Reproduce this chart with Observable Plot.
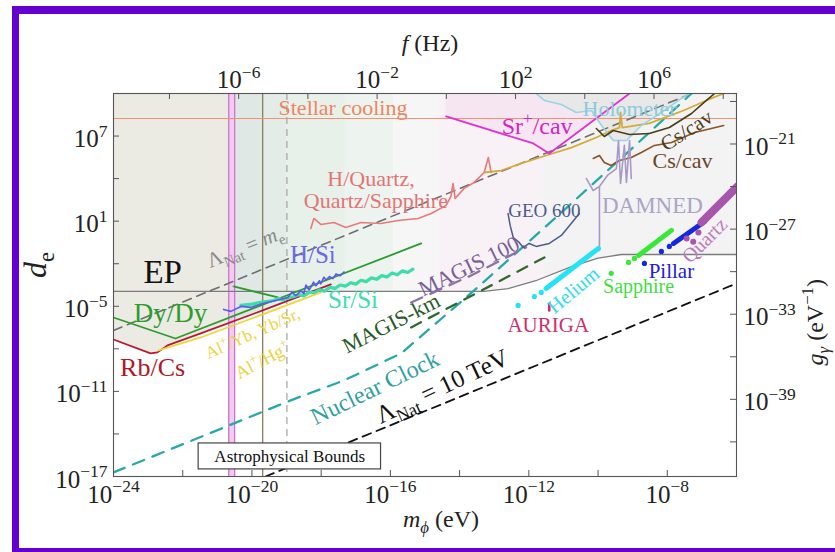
<!DOCTYPE html>
<html>
<head>
<meta charset="utf-8">
<script src="https://cdn.jsdelivr.net/npm/d3@7"></script>
<script src="https://cdn.jsdelivr.net/npm/@observablehq/plot@0.6"></script>
<style>
  html, body { margin: 0; padding: 0; background: #fff; overflow: hidden; }
  #wrap { position: relative; width: 835px; height: 552px; }
  #wrap svg { position: absolute; left: 0; top: 0; }
  #border { position: absolute; left: 12px; top: 6px; width: 840px; height: 549px; box-sizing: border-box;
    border-style: solid; border-color: #6400d0; border-width: 8px 7px 7px 7px; pointer-events: none; }
</style>
</head>
<body>
<div id="wrap"><div id="border"></div></div>
<script>
// ---------- data: [log10(m_phi / eV), log10(d_e)] ----------
const epBound = [[-24,-3.95],[-13.3,-3.95],[-12.6,-3.75],[-11.8,-3.2],[-10.77,-2.2],[-10.0,-1.6],[-9.33,-1.35],[-6,-1.35]];
const shadeEnvelope = [[-24,-7.34],[-22.93,-8.32],[-22.73,-8.25],[-22.44,-7.76],[-21.48,-6.91],[-18.26,-3.95],[-13.3,-3.95],[-12.6,-3.75],[-11.8,-3.2],[-10.77,-2.2],[-10.0,-1.6],[-9.33,-1.35],[-6,-1.35]];
const rbCs = [[-24,-7.34],[-22.93,-8.32],[-22.73,-8.25],[-22.44,-7.76],[-21.48,-6.91],[-19.69,-5.29],[-17.72,-3.46]];
const alYbSr = [[-22.70,-8.11],[-21.48,-7.20],[-19.69,-5.57],[-18.01,-4.02]];
const dyDy = [[-24,-5.79],[-22.21,-7.27],[-15.11,-0.57]];
const dyDy2 = [[-20.53,-3.60],[-19.25,-4.38]];
const hSi = [[-20.82,-5.22],[-20.61,-5.36],[-20.32,-5.01],[-20.03,-5.08],[-19.69,-4.80],[-19.31,-4.59],[-18.96,-4.38],[-18.85,-4.02],[-18.73,-4.25],[-18.59,-3.92],[-18.50,-4.10],[-18.44,-3.50],[-18.35,-3.85],[-18.30,-3.67],[-18.22,-3.30],[-18.15,-3.55],[-18.05,-3.20],[-18.01,-3.42],[-17.92,-2.95],[-17.86,-3.15],[-17.76,-2.90],[-17.66,-3.05],[-17.57,-2.72],[-17.45,-2.85],[-17.34,-2.58]];
const srSi = [[-20.32,-4.94],[-20.0,-4.85],[-19.7,-4.70],[-19.37,-4.59],[-19.25,-4.46],[-19.1,-4.55],[-18.95,-4.38],[-18.8,-4.33],[-18.65,-4.18],[-18.5,-4.27],[-18.35,-4.04],[-18.2,-4.04],[-18.05,-3.84],[-17.9,-3.93],[-17.75,-3.66],[-17.6,-3.74],[-17.45,-3.50],[-17.3,-3.58],[-17.15,-3.34],[-17.0,-3.44],[-16.85,-3.17],[-16.7,-3.26],[-16.55,-3.00],[-16.4,-3.10],[-16.25,-2.84],[-16.1,-2.94],[-15.95,-2.66],[-15.8,-2.78],[-15.65,-2.50],[-15.5,-2.62],[-15.35,-2.38]];
const hQuartz = [[-18.30,0.49],[-18.21,1.19],[-18.01,0.77],[-17.63,0.91],[-17.29,0.56],[-16.85,0.91],[-16.27,0.84],[-15.78,1.05],[-15.20,1.19],[-14.82,1.54],[-14.39,2.11],[-14.25,2.74],[-14.19,3.66],[-14.13,2.60],[-13.87,3.31],[-13.58,3.73],[-13.29,4.43],[-13.17,5.49],[-13.09,4.43]];
const quartzGold = [[-13.29,4.43],[-12.80,4.57],[-12.22,5.07],[-11.50,5.63],[-10.77,6.19],[-10.05,6.90],[-9.62,7.39],[-9.38,7.60],[-9.35,8.66],[-9.30,7.60],[-8.52,7.89],[-7.53,8.80],[-6.87,9.51],[-6.37,10]];
const srCav = [[-14.39,8.38],[-11.87,6.48],[-11.41,5.77],[-9.09,10]];
const holometer = [[-11.79,10],[-11.55,9.51],[-11.06,9.22],[-10.63,8.66],[-10.19,8.80],[-9.90,7.74],[-9.56,6.69],[-9.18,6.69],[-8.75,7.74],[-8.17,8.66],[-7.59,9.65],[-7.36,10]];
const csCavUpper = [[-10.05,7.53],[-9.82,6.97],[-9.56,7.39],[-9.09,7.11],[-8.52,7.18],[-7.94,7.60],[-7.30,8.59],[-6.87,9.51],[-6.63,10]];
const csCavLower = [[-10.14,5.42],[-9.96,5.63],[-9.82,5.14],[-9.62,4.93],[-9.38,5.28],[-9.04,5.49],[-8.75,5.84],[-8.37,6.34],[-7.88,6.55],[-7.21,7.25],[-6.37,7.74]];
const damned = [[-10.34,4.01],[-10.14,3.16],[-9.96,3.45],[-9.96,-1.06],[-9.96,3.45],[-9.73,4.22],[-9.47,4.71],[-9.41,6.69],[-9.35,3.66],[-9.24,6.34],[-9.18,3.73],[-9.09,6.69],[-9.04,4.01]];
const geo600 = [[-12.60,1.54],[-12.54,0.70],[-12.45,-0.15],[-12.28,-0.50],[-12.16,-0.85],[-11.99,-0.57],[-11.79,-0.78],[-11.41,-0.57],[-11.06,-0.01],[-10.54,1.54]];
const auriga = [[-11.41,-4.80],[-11.41,-5.29]];
const lambdaMe = [[-24,-6.7],[-7.3,10]];
const lambda10TeV = [[-19.61,-17],[-6,-3.39]];
const nuclearClock = [[-24,-16.71],[-18.88,-11.63],[-17.34,-10.23],[-15.69,-8.32],[-13.58,-3.88],[-11.06,1.61],[-8.83,6.55],[-7.30,10]];
const magis100 = [[-15.40,-4.73],[-13.67,-2.83],[-12.08,-0.85]];
const magisKm = [[-15.40,-6.49],[-11.55,-1.56]];
const heliumDots = [[-12.31,-4.94],[-11.84,-4.31],[-11.64,-4.02]];
const heliumBand = [[-11.50,-3.74],[-9.99,-0.92]];
const sapphireDots = [[-9.62,-2.68],[-9.12,-1.91],[-8.95,-1.63]];
const sapphireBand = [[-8.83,-1.42],[-7.88,0.35]];
const pillarDots = [[-8.66,-1.98],[-8.17,-1.13],[-7.94,-0.78]];
const pillarBand = [[-7.82,-0.57],[-6.92,0.98]];
const quartzDots = [[-7.44,-0.22],[-7.10,0.20],[-7.25,-0.45]];
const quartzBand = [[-7.01,0.91],[-5.97,3.45]];
const stellarCooling = 8.24;
const astroPink = [-20.67, -20.50];
const astroBrown = -19.69;
const astroDashed = -18.99;
const shadeStripes = [
  {a:-24, b:-20.67, c:"#ebebe4"}, {a:-20.67, b:-20.50, c:"#e6e8e4"}, {a:-20.50, b:-19.69, c:"#dfe8e4"},
  {a:-19.69, b:-18.99, c:"#e3ece7"}, {a:-18.99, b:-17.3, c:"#e7f1ea"}, {a:-17.3, b:-15.9, c:"#edf4ef"},
  {a:-15.9, b:-14.6, c:"#f5f6f5"}, {a:-14.6, b:-11.6, c:"#f8f1f6"}, {a:-11.6, b:-6, c:"#f3f3f3"}
];
// axis ticks (exponents)
const xTickExp = [-22,-20,-18,-16,-14,-12,-10,-8];
const xLabelExp = [-24,-20,-16,-12,-8];
const yTickExp = [7,4,1,-2,-5,-8,-11,-14];
const yLabelExp = [7,1,-5,-11,-17];
const gTickExp = [-18,-21,-24,-27,-30,-33,-36,-39,-42];
const gLabelExp = [-21,-27,-33,-39];
const fTickExp = [-8,-6,-4,-2,0,2,4,6,8];
const fLabelExp = [-6,-2,2,6];
const HZ_PER_EV = 2.418e14;
const DE_PER_G = 10 ** 27.44;
// labels: [text, log10 m, log10 d_e, colour, size, rotate]
const labels = [
  ["Stellar cooling", -17.37, 9.01, "#f08462", 22, 0],
  ["H/Quartz,", -16.56, 4.01, "#e47474", 22, 0],
  ["Quartz/Sapphire", -16.42, 2.39, "#e47474", 22, 0],
  ["Sr^{+}/cav", -11.76, 7.67, "#d424c4", 24, 0],
  ["Holometer", -9.09, 8.94, "#8ccadc", 22, 0],
  ["Cs/cav", -7.44, 7.39, "#4a3c18", 21, -33],
  ["Cs/cav", -7.56, 5.28, "#6a4428", 22, 0],
  ["DAMNED", -8.43, 2.11, "#aca4c8", 23, 0],
  ["GEO 600", -11.55, 1.75, "#4c5c8c", 19, 0],
  ["EP", -22.58, -2.61, "#111111", 33, 0],
  ["Λ_{Nat} = *m*_{e}", -20.2, -0.8, "#8a8a8a", 21, -22],
  ["H/Si", -18.24, -1.42, "#6a6ae6", 25, 0],
  ["Dy/Dy", -22.35, -5.50, "#2c9c2c", 27, 0],
  ["Sr/Si", -17.08, -4.59, "#40dcb0", 25, 0],
  ["Rb/Cs", -22.87, -9.31, "#b01828", 26, 0],
  ["Al^{+}/Yb, Yb/Sr,", -19.98, -6.91, "#eed23c", 17, -24],
  ["Al^{+}/Hg^{+}", -19.69, -8.82, "#eed23c", 18, -28],
  ["MAGIS 100", -13.73, -2.19, "#7c5e98", 22, -26],
  ["MAGIS-km", -15.98, -6.21, "#2a5a2a", 22, -27],
  ["Nuclear Clock", -16.45, -10.75, "#30a0a0", 24, -26],
  ["Λ_{Nat} = 10 TeV", -14.5, -10.65, "#111111", 25, -25],
  ["AURIGA", -11.44, -6.35, "#d0306c", 21, 0],
  ["Helium", -10.71, -3.88, "#30dcec", 20, -40],
  ["Sapphire", -8.83, -3.60, "#3ee03e", 20, 0],
  ["Pillar", -7.88, -2.54, "#2020dc", 21, 0],
  ["Quartz", -6.92, -0.36, "#c07ac0", 20, -45]
];
const astroBox = {x1: -21.54, x2: -16.27, y1: -16.50, y2: -14.67, text: "Astrophysical Bounds", lm: -18.91, ld: -15.58};

// ---------- helpers ----------
const X = d => 10 ** d[0], Y = d => 10 ** d[1];
const pow = e => `10^{${e < 0 ? "−" : ""}${Math.abs(e)}}`;
const FW = 835 - 113 - 99, FH = 552 - 93 - 76;
const line = (data, stroke, strokeWidth, extra = {}) => Plot.line(data, {x: X, y: Y, stroke, strokeWidth, clip: true, strokeLinejoin: "round", ...extra});
const band = (data, stroke, w) => Plot.line(data, {x: X, y: Y, stroke, strokeWidth: w, strokeLinecap: "round", clip: true});
const dots = (data, fill, r = 2.6) => Plot.dot(data, {x: X, y: Y, r, fill, stroke: null, clip: true});
const axisTextColor = "#222";

const chart = Plot.plot({
  width: 835, height: 552,
  marginLeft: 113, marginRight: 99, marginTop: 93, marginBottom: 76,
  x: {type: "log", domain: [1e-24, 1e-6], axis: null},
  y: {type: "log", domain: [1e-17, 1e10], axis: null},
  color: {type: "identity"},
  style: {fontFamily: "'Liberation Serif', 'DejaVu Serif', serif", background: "transparent", overflow: "visible"},
  marks: [
    // shaded exclusion regions
    Plot.rect(shadeStripes, {x1: d => 10 ** d.a, x2: d => 10 ** d.b, y1: 1e-17, y2: 1e10, fill: d => d.c}),
    Plot.areaY(srCav, {x: X, y1: Y, y2: () => 1e10, fill: "#f6e6f2", clip: true}),
    Plot.areaY(holometer, {x: X, y1: Y, y2: () => 1e10, fill: "#e8e8e8", clip: true}),
    Plot.areaY(shadeEnvelope, {x: X, y1: () => 1e-17, y2: Y, fill: "#ffffff", clip: true}),
    // astrophysical bounds
    Plot.rect([astroPink], {x1: d => 10 ** d[0], x2: d => 10 ** d[1], y1: 1e-17, y2: 1e10, fill: "#f4caf2"}),
    Plot.ruleX(astroPink, {x: d => 10 ** d, stroke: "#c678ca", strokeWidth: 1.3}),
    Plot.ruleX([astroBrown], {x: d => 10 ** d, stroke: "#8c7c5c", strokeWidth: 1.3}),
    Plot.ruleX([astroDashed], {x: d => 10 ** d, stroke: "#9a9a9a", strokeWidth: 1.1, strokeDasharray: "7,5"}),
    Plot.ruleY([stellarCooling], {y: d => 10 ** d, stroke: "#f29270", strokeWidth: 1.1}),
    // EP
    line(epBound, "#7c7c7c", 1.3),
    // dashed projections / naturalness
    line(lambdaMe, "#6e6e6e", 1.6, {strokeDasharray: "9,6"}),
    line(lambda10TeV, "#111111", 1.8, {strokeDasharray: "9,6"}),
    line(nuclearClock, "#28a8a8", 2.3, {strokeDasharray: "12,9"}),
    line(magis100, "#8c72a4", 2.3, {strokeDasharray: "12,9"}),
    line(magisKm, "#2e6a2e", 2.3, {strokeDasharray: "11,9"}),
    // clock and resonator bounds
    line(dyDy, "#2c9c2c", 1.8),
    line(dyDy2, "#2c9c2c", 1.8),
    line(rbCs, "#b81830", 1.8),
    line(alYbSr, "#f2d43a", 1.8),
    line(srSi, "#3ddcaa", 3.2),
    line(hSi, "#5a5af0", 1.6),
    line(hQuartz, "#e87a7a", 1.6),
    line(quartzGold, "#d4aa3a", 1.8),
    line(srCav, "#e030d0", 1.8),
    line(holometer, "#9ad4e4", 1.6),
    line(csCavLower, "#8a5226", 1.6),
    line(csCavUpper, "#4a3c18", 1.6),
    line(damned, "#a898c8", 1.6),
    line(geo600, "#4c5c8c", 1.5),
    band(auriga, "#d02a6a", 2.6),
    // resonant-mass detectors
    band(heliumBand, "#22e4f4", 5), dots(heliumDots, "#22e4f4"),
    band(sapphireBand, "#38e838", 5), dots(sapphireDots, "#38e838"),
    band(pillarBand, "#1428e0", 5), dots(pillarDots, "#1428e0"),
    band(quartzBand, "#a855ac", 8), dots(quartzDots, "#a855ac", 3),
    // labels
    Plot.text(labels, {x: d => 10 ** d[1], y: d => 10 ** d[2], text: d => d[0], fill: d => d[3], fontSize: d => d[4], rotate: d => d[5]}),
    Plot.rect([astroBox], {x1: d => 10 ** d.x1, x2: d => 10 ** d.x2, y1: d => 10 ** d.y1, y2: d => 10 ** d.y2, fill: "#ffffff", stroke: "#444", strokeWidth: 1.2}),
    Plot.text([astroBox], {x: d => 10 ** d.lm, y: d => 10 ** d.ld, text: d => d.text, fontSize: 17, fill: "#111"}),
    // frame and axes
    Plot.frame({stroke: "#555", strokeWidth: 1.1}),
    Plot.tickX(xTickExp, {x: e => 10 ** e, insetTop: FH - 6, stroke: "#555"}),
    Plot.tickX(fTickExp, {x: e => 10 ** e / HZ_PER_EV, insetBottom: FH - 6, stroke: "#555"}),
    Plot.tickY(yTickExp, {y: e => 10 ** e, insetRight: FW - 6, stroke: "#555"}),
    Plot.tickY(gTickExp, {y: e => 10 ** e * DE_PER_G, insetLeft: FW - 6, stroke: "#555"}),
    Plot.text(xLabelExp, {x: e => 10 ** e, frameAnchor: "bottom", dy: 26, text: pow, fontSize: 25, fill: axisTextColor}),
    Plot.text(fLabelExp, {x: e => 10 ** e / HZ_PER_EV, frameAnchor: "top", dy: -23, text: pow, fontSize: 25, fill: axisTextColor}),
    Plot.text(yLabelExp, {y: e => 10 ** e, frameAnchor: "left", dx: -6, dy: 3, textAnchor: "end", text: pow, fontSize: 25, fill: axisTextColor}),
    Plot.text(gLabelExp, {y: e => 10 ** e * DE_PER_G, frameAnchor: "right", dx: 7, dy: 3, textAnchor: "start", text: pow, fontSize: 25, fill: axisTextColor}),
    // axis titles
    Plot.text(["*m*_i{ϕ} (eV)"], {text: d => d, frameAnchor: "bottom", dx: 16, dy: 50, fontSize: 24, fill: axisTextColor}),
    Plot.text(["*f* (Hz)"], {text: d => d, frameAnchor: "top", dx: 5, dy: -60, fontSize: 24, fill: axisTextColor}),
    Plot.text(["*d*_{e}"], {text: d => d, frameAnchor: "left", dx: -78, dy: -7, rotate: -90, fontSize: 32, fill: axisTextColor}),
    Plot.text(["*g*_i{γ} (eV^{−1})"], {text: d => d, frameAnchor: "right", dx: 79, dy: -6, rotate: -90, fontSize: 24, fill: axisTextColor})
  ]
});

// rich text: ^{sup}, _{sub}, _i{italic sub}, *italic*
function richify(root) {
  const ns = "http://www.w3.org/2000/svg";
  root.querySelectorAll("text").forEach(t => {
    const s = t.textContent;
    if (!/\^\{|_i?\{|\*/.test(s)) return;
    while (t.firstChild) t.removeChild(t.firstChild);
    const parts = s.split(/(\^\{[^}]*\}|_i?\{[^}]*\}|\*[^*]+\*)/).filter(p => p);
    let cur = 0;
    for (const p of parts) {
      const ts = document.createElementNS(ns, "tspan");
      let txt = p, target = 0, small = false, italic = false;
      if (p.startsWith("^{")) { txt = p.slice(2, -1); target = -0.42; small = true; }
      else if (p.startsWith("_i{")) { txt = p.slice(3, -1); target = 0.25; small = true; italic = true; }
      else if (p.startsWith("_{")) { txt = p.slice(2, -1); target = 0.25; small = true; }
      else if (p.startsWith("*")) { txt = p.slice(1, -1); italic = true; }
      const scale = small ? 0.7 : 1;
      if (small) ts.setAttribute("font-size", "70%");
      if (italic) ts.setAttribute("font-style", "italic");
      const dy = (target - cur) / scale;
      if (Math.abs(dy) > 1e-6) ts.setAttribute("dy", dy.toFixed(3) + "em");
      cur = target;
      ts.textContent = txt;
      t.appendChild(ts);
    }
  });
}
richify(chart);
document.getElementById("wrap").insertBefore(chart, document.getElementById("border"));
</script>
</body>
</html>
